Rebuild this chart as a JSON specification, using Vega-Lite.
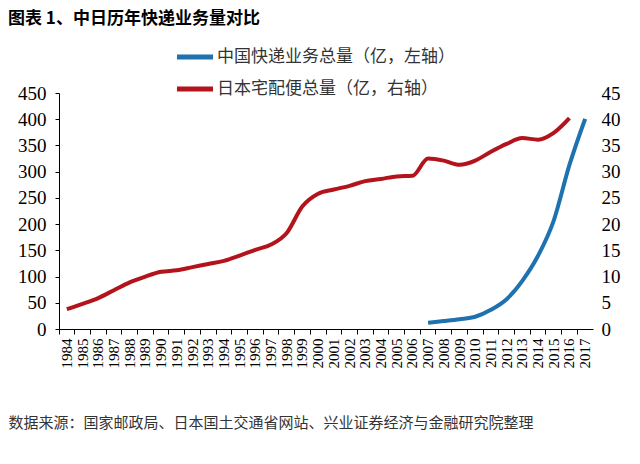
{
  "$schema": "https://vega.github.io/schema/vega-lite/v6.json",
  "width": 534,
  "height": 236,
  "autosize": {"type": "none"},
  "padding": {"left": 59, "top": 93, "right": 47, "bottom": 135},
  "background": "white",
  "title": {
    "text": "图表 1、中日历年快递业务量对比",
    "anchor": "start",
    "frame": "group",
    "dx": -51,
    "dy": 14,
    "offset": 22,
    "font": "Noto Sans CJK SC",
    "fontSize": 17,
    "fontWeight": "bold",
    "color": "#000000"
  },
  "datasets": {
    "cn": [
      {"year": 2007, "series": "中国快递业务总量（亿，左轴）", "value": 12.0},
      {"year": 2008, "series": "中国快递业务总量（亿，左轴）", "value": 15.1},
      {"year": 2009, "series": "中国快递业务总量（亿，左轴）", "value": 18.6},
      {"year": 2010, "series": "中国快递业务总量（亿，左轴）", "value": 23.4},
      {"year": 2011, "series": "中国快递业务总量（亿，左轴）", "value": 36.7},
      {"year": 2012, "series": "中国快递业务总量（亿，左轴）", "value": 56.9},
      {"year": 2013, "series": "中国快递业务总量（亿，左轴）", "value": 91.9},
      {"year": 2014, "series": "中国快递业务总量（亿，左轴）", "value": 139.6},
      {"year": 2015, "series": "中国快递业务总量（亿，左轴）", "value": 206.7},
      {"year": 2016, "series": "中国快递业务总量（亿，左轴）", "value": 312.8},
      {"year": 2017, "series": "中国快递业务总量（亿，左轴）", "value": 400.6}
    ],
    "jp": [
      {"year": 1984, "series": "日本宅配便总量（亿，右轴）", "value": 3.8},
      {"year": 1985, "series": "日本宅配便总量（亿，右轴）", "value": 4.8},
      {"year": 1986, "series": "日本宅配便总量（亿，右轴）", "value": 5.9},
      {"year": 1987, "series": "日本宅配便总量（亿，右轴）", "value": 7.4},
      {"year": 1988, "series": "日本宅配便总量（亿，右轴）", "value": 8.9},
      {"year": 1989, "series": "日本宅配便总量（亿，右轴）", "value": 10.0},
      {"year": 1990, "series": "日本宅配便总量（亿，右轴）", "value": 10.9},
      {"year": 1991, "series": "日本宅配便总量（亿，右轴）", "value": 11.2},
      {"year": 1992, "series": "日本宅配便总量（亿，右轴）", "value": 11.8},
      {"year": 1993, "series": "日本宅配便总量（亿，右轴）", "value": 12.4},
      {"year": 1994, "series": "日本宅配便总量（亿，右轴）", "value": 13.0},
      {"year": 1995, "series": "日本宅配便总量（亿，右轴）", "value": 14.0},
      {"year": 1996, "series": "日本宅配便总量（亿，右轴）", "value": 15.1},
      {"year": 1997, "series": "日本宅配便总量（亿，右轴）", "value": 16.1},
      {"year": 1998, "series": "日本宅配便总量（亿，右轴）", "value": 18.3},
      {"year": 1999, "series": "日本宅配便总量（亿，右轴）", "value": 23.4},
      {"year": 2000, "series": "日本宅配便总量（亿，右轴）", "value": 25.8},
      {"year": 2001, "series": "日本宅配便总量（亿，右轴）", "value": 26.6},
      {"year": 2002, "series": "日本宅配便总量（亿，右轴）", "value": 27.3},
      {"year": 2003, "series": "日本宅配便总量（亿，右轴）", "value": 28.2},
      {"year": 2004, "series": "日本宅配便总量（亿，右轴）", "value": 28.6},
      {"year": 2005, "series": "日本宅配便总量（亿，右轴）", "value": 29.1},
      {"year": 2006, "series": "日本宅配便总量（亿，右轴）", "value": 29.2},
      {"year": 2007, "series": "日本宅配便总量（亿，右轴）", "value": 32.5},
      {"year": 2008, "series": "日本宅配便总量（亿，右轴）", "value": 32.1},
      {"year": 2009, "series": "日本宅配便总量（亿，右轴）", "value": 31.3},
      {"year": 2010, "series": "日本宅配便总量（亿，右轴）", "value": 32.1},
      {"year": 2011, "series": "日本宅配便总量（亿，右轴）", "value": 33.8},
      {"year": 2012, "series": "日本宅配便总量（亿，右轴）", "value": 35.3},
      {"year": 2013, "series": "日本宅配便总量（亿，右轴）", "value": 36.4},
      {"year": 2014, "series": "日本宅配便总量（亿，右轴）", "value": 36.1},
      {"year": 2015, "series": "日本宅配便总量（亿，右轴）", "value": 37.4},
      {"year": 2016, "series": "日本宅配便总量（亿，右轴）", "value": 40.2}
    ]
  },
  "encoding": {
    "x": {
      "field": "year",
      "type": "ordinal",
      "scale": {"type": "band", "paddingInner": 0, "paddingOuter": 0},
      "axis": {
        "title": "数据来源：国家邮政局、日本国土交通省网站、兴业证券经济与金融研究院整理",
        "titleFont": "Noto Sans CJK SC",
        "titleFontSize": 15,
        "titleFontWeight": "normal",
        "titleColor": "#333333",
        "titleAnchor": "start",
        "titleAlign": "left",
        "titleBaseline": "middle",
        "titleX": -51,
        "titleY": 93,
        "labelAngle": 270,
        "labelAlign": "right",
        "labelBaseline": "middle",
        "labelFont": "Liberation Serif",
        "labelFontSize": 15,
        "labelColor": "#000000",
        "labelPadding": 4,
        "bandPosition": 0,
        "tickSize": 5,
        "tickColor": "#000000",
        "domainColor": "#000000",
        "grid": false
      }
    },
    "color": {
      "field": "series",
      "type": "nominal",
      "scale": {
        "domain": ["中国快递业务总量（亿，左轴）", "日本宅配便总量（亿，右轴）"],
        "range": ["#1f72b0", "#b3141c"]
      },
      "legend": {
        "title": null,
        "orient": "none",
        "legendX": 115,
        "legendY": -57,
        "symbolType": "stroke",
        "symbolSize": 1300,
        "symbolStrokeWidth": 5,
        "labelFont": "Noto Sans CJK SC",
        "labelFontSize": 17,
        "labelColor": "#333333",
        "labelLimit": 400,
        "labelOffset": 1,
        "rowPadding": 1
      }
    }
  },
  "layer": [
    {
      "data": {"name": "cn"},
      "mark": {"type": "line", "interpolate": "monotone", "strokeWidth": 4},
      "encoding": {
        "y": {
          "field": "value",
          "type": "quantitative",
          "scale": {"domain": [0, 450]},
          "axis": {
            "title": null,
            "orient": "left",
            "values": [0, 50, 100, 150, 200, 250, 300, 350, 400, 450],
            "labelFont": "Liberation Serif",
            "labelFontSize": 19,
            "labelColor": "#000000",
            "labelPadding": 9,
            "tickSize": 4,
            "tickColor": "#000000",
            "domainColor": "#000000",
            "grid": false
          }
        }
      }
    },
    {
      "data": {"name": "jp"},
      "mark": {"type": "line", "interpolate": "monotone", "strokeWidth": 4},
      "encoding": {
        "y": {
          "field": "value",
          "type": "quantitative",
          "scale": {"domain": [0, 45]},
          "axis": {
            "title": null,
            "orient": "right",
            "values": [0, 5, 10, 15, 20, 25, 30, 35, 40, 45],
            "labelFont": "Liberation Serif",
            "labelFontSize": 19,
            "labelColor": "#000000",
            "labelPadding": 8,
            "ticks": false,
            "domain": false,
            "grid": false
          }
        }
      }
    }
  ],
  "resolve": {"scale": {"y": "independent"}},
  "config": {
    "view": {"stroke": null},
    "axis": {"labelOverlap": false}
  }
}
